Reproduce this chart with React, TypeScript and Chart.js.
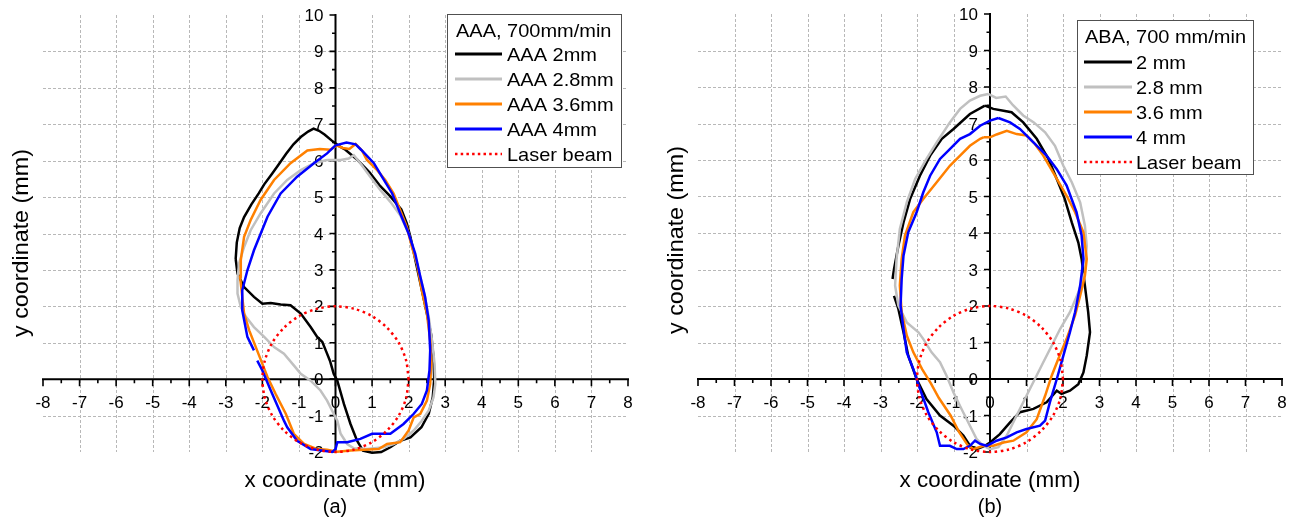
import React, { useEffect, useRef } from "react";
import { Chart, registerables } from "chart.js";

Chart.register(...registerables);

type Pt = [number, number] | null;

// ---------- axis ticks ----------
const X_TICKS = [-8, -7, -6, -5, -4, -3, -2, -1, 0, 1, 2, 3, 4, 5, 6, 7, 8];
const X_MINOR = [-7.5, -6.5, -5.5, -4.5, -3.5, -2.5, -1.5, -0.5, 0.5, 1.5, 2.5, 3.5, 4.5, 5.5, 6.5, 7.5];
const Y_TICKS = [-2, -1, 0, 1, 2, 3, 4, 5, 6, 7, 8, 9, 10];
const Y_MINOR = [-1.5, -0.5, 0.5, 1.5, 2.5, 3.5, 4.5, 5.5, 6.5, 7.5, 8.5, 9.5];

// ---------- panel (a): AAA, 700mm/min ----------
const AAA_2MM: Pt[] = [
  [-2.73, 3.3], [-2.7, 3.75], [-2.62, 4.15], [-2.5, 4.45], [-2.3, 4.8], [-2.1, 5.1], [-1.95, 5.35],
  [-1.75, 5.62], [-1.55, 5.9], [-1.35, 6.19], [-1.15, 6.45], [-0.95, 6.65], [-0.75, 6.8], [-0.6, 6.88],
  [-0.45, 6.82], [-0.3, 6.72], [-0.1, 6.55], [0.1, 6.4], [0.27, 6.3], [0.58, 6.04], [0.93, 5.68],
  [1.2, 5.33], [1.5, 5.02], [1.8, 4.66], [1.95, 4.28], [2.05, 3.9], [2.2, 3.2], [2.35, 2.5], [2.5, 1.8],
  [2.62, 1.2], [2.68, 0.6], [2.7, 0.0], [2.66, -0.5], [2.55, -0.95], [2.35, -1.32], [2.05, -1.6],
  [1.77, -1.69], [1.5, -1.87], [1.25, -2.0], [1.0, -2.02], [0.75, -1.96], [0.59, -1.69], [0.41, -1.23],
  [0.23, -0.68], [0.05, -0.04], [-0.05, 0.15], [-0.15, 0.5], [-0.25, 0.75], [-0.36, 1.02], [-0.5, 1.16],
  [-0.68, 1.43], [-0.95, 1.8], [-1.23, 2.03], [-1.5, 2.05], [-1.77, 2.09], [-2.0, 2.07], [-2.23, 2.26],
  [-2.5, 2.53], [-2.68, 2.9], [-2.73, 3.3],
];
const AAA_2_8MM: Pt[] = [
  [-0.23, 6.02], [0.14, 6.02], [0.36, 6.06], [0.5, 6.15], [0.68, 5.93], [0.95, 5.56], [1.23, 5.19],
  [1.5, 4.87], [1.77, 4.5], [2.0, 4.0], [2.23, 3.17], [2.41, 2.44], [2.55, 1.71], [2.64, 1.06],
  [2.71, 0.42], [2.73, -0.13], [2.68, -0.5], [2.55, -0.86], [2.36, -1.14], [2.14, -1.41], [1.86, -1.64],
  [1.59, -1.78], [1.32, -1.87], [0.86, -1.92], [0.5, -1.9], [0.32, -1.78], [0.14, -1.5], [0.05, -1.14],
  [-0.05, -0.95], [-0.23, -0.59], [-0.41, -0.31], [-0.68, -0.04], [-0.95, 0.15], [-1.14, 0.38],
  [-1.41, 0.7], [-1.68, 0.88], [-1.95, 1.16], [-2.23, 1.43], [-2.45, 1.71], [-2.59, 1.98], [-2.68, 2.35],
  [-2.68, 2.72], [-2.64, 3.17], [-2.5, 3.63], [-2.32, 4.09], [-2.05, 4.55], [-1.68, 5.1], [-1.32, 5.47],
  [-0.95, 5.74], [-0.59, 5.93], [-0.23, 6.02],
];
const AAA_3_6MM: Pt[] = [
  [0.03, 6.42], [0.2, 6.35], [0.38, 6.32], [0.55, 6.46], [0.73, 6.27], [0.86, 6.02], [1.14, 5.74],
  [1.36, 5.47], [1.59, 5.1], [1.77, 4.64], [1.95, 4.18], [2.09, 3.63], [2.23, 3.17], [2.36, 2.44],
  [2.5, 1.8], [2.59, 1.06], [2.62, 0.42], [2.59, -0.13], [2.5, -0.59], [2.32, -0.95], [2.14, -1.05],
  [2.0, -1.41], [1.77, -1.73], [1.41, -1.78], [1.18, -1.92], [0.77, -1.94], [0.41, -1.96], [0.05, -1.99],
  [-0.23, -1.94], [-0.5, -1.92], [-0.86, -1.78], [-1.14, -1.5], [-1.36, -0.95], [-1.64, -0.4],
  [-1.86, 0.06], [-2.0, 0.42], [-2.18, 0.88], [-2.36, 1.34], [-2.5, 1.8], [-2.55, 2.26], [-2.61, 2.81],
  [-2.59, 3.27], [-2.5, 3.91], [-2.32, 4.37], [-2.05, 4.92], [-1.68, 5.47], [-1.23, 5.93], [-0.77, 6.28],
  [-0.43, 6.32], [-0.14, 6.3], [0.03, 6.42],
];
const AAA_4MM: Pt[] = [
  [0.0, 6.42], [0.3, 6.5], [0.55, 6.45], [0.7, 6.3], [1.05, 5.93], [1.27, 5.56], [1.55, 5.1], [1.77, 4.55],
  [2.0, 4.0], [2.18, 3.45], [2.32, 2.81], [2.45, 2.26], [2.55, 1.61], [2.59, 0.79], [2.57, 0.24],
  [2.5, -0.31], [2.36, -0.68], [2.14, -0.95], [1.86, -1.23], [1.5, -1.5], [1.0, -1.5], [0.68, -1.64],
  [0.32, -1.73], [0.05, -1.73], [0.0, -1.92], [-0.09, -2.0], [-0.68, -1.92], [-1.05, -1.69],
  [-1.32, -1.32], [-1.41, -1.14], [-1.77, -0.31], [-2.0, 0.24], [-2.14, 0.51], null, [-2.23, 0.79],
  [-2.41, 1.16], [-2.55, 1.89], [-2.55, 2.44], [-2.41, 2.99], [-2.23, 3.54], [-1.86, 4.46], [-1.5, 5.1],
  [-1.05, 5.56], [-0.59, 5.93], [-0.23, 6.2], [0.0, 6.42],
];

// ---------- panel (b): ABA, 700 mm/min ----------
const ABA_2MM: Pt[] = [
  [-0.14, 7.49], [-0.55, 7.26], [-1.0, 6.85], [-1.32, 6.58], [-1.64, 6.12], [-1.92, 5.57], [-2.19, 4.93],
  [-2.37, 4.29], [-2.51, 3.65], [-2.63, 3.01], [-2.67, 2.74], null, [-2.63, 2.28], [-2.51, 1.92],
  [-2.37, 1.28], [-2.24, 0.64], [-2.01, 0.0], [-1.74, -0.55], [-1.37, -1.0], [-1.0, -1.28],
  [-0.73, -1.55], [-0.55, -1.83], [-0.37, -1.92], [-0.14, -1.83], [0.0, -1.74], [0.27, -1.51],
  [0.55, -1.19], [0.82, -0.91], [1.19, -0.82], [1.55, -0.64], [1.83, -0.32], [1.96, -0.41],
  [2.19, -0.32], [2.42, -0.14], [2.56, 0.18], [2.65, 0.64], [2.74, 1.28], [2.69, 1.83], [2.6, 2.56],
  [2.51, 3.29], [2.42, 3.74], [2.24, 4.29], [2.05, 4.93], [1.83, 5.48], [1.6, 6.03], [1.28, 6.58],
  [0.91, 7.03], [0.59, 7.31], [0.37, 7.35], [0.09, 7.4], [-0.14, 7.49],
];
const ABA_2_8MM: Pt[] = [
  [-0.05, 7.81], [-0.27, 7.76], [-0.55, 7.63], [-0.82, 7.4], [-1.1, 7.03], [-1.46, 6.48], [-1.74, 6.03],
  [-2.05, 5.48], [-2.28, 4.84], [-2.47, 4.11], [-2.56, 3.29], [-2.6, 2.56], [-2.51, 2.01], [-2.28, 1.55],
  [-1.96, 1.28], [-1.83, 1.1], [-1.6, 0.73], [-1.37, 0.46], [-1.19, 0.09], [-1.0, -0.37], [-0.78, -0.82],
  [-0.55, -1.28], [-0.37, -1.64], [-0.18, -1.83], [0.0, -1.92], [0.23, -1.87], [0.46, -1.55],
  [0.73, -1.0], [1.0, -0.46], [1.23, 0.0], [1.46, 0.46], [1.69, 0.91], [1.92, 1.37], [2.19, 1.83],
  [2.42, 2.37], [2.6, 2.92], [2.65, 3.65], [2.6, 4.2], [2.47, 4.84], [2.24, 5.39], [2.01, 5.84],
  [1.78, 6.39], [1.51, 6.76], [1.2, 7.03], [0.91, 7.22], [0.63, 7.5], [0.43, 7.74], [0.17, 7.7],
  [-0.05, 7.81],
];
const ABA_3_6MM: Pt[] = [
  [-0.18, 6.62], [0.0, 6.62], [0.18, 6.7], [0.46, 6.8], [0.73, 6.71], [1.0, 6.67], [1.23, 6.44],
  [1.46, 6.12], [1.78, 5.57], [2.1, 5.02], [2.33, 4.57], [2.56, 4.02], [2.65, 3.29], [2.6, 2.83],
  [2.47, 2.28], [2.33, 1.74], [2.1, 1.1], [1.87, 0.55], [1.69, 0.09], [1.51, -0.46], [1.28, -1.1],
  [1.0, -1.46], [0.64, -1.69], [0.37, -1.74], [0.09, -1.83], [-0.18, -1.83], [-0.46, -1.92],
  [-0.62, -1.8], [-0.85, -1.45], [-1.08, -1.0], [-1.4, -0.52], [-1.62, -0.12], [-1.86, 0.27],
  [-2.1, 0.73], [-2.28, 1.19], [-2.42, 1.83], [-2.47, 2.56], [-2.42, 3.29], [-2.33, 3.93], [-2.1, 4.57],
  [-1.83, 4.93], [-1.46, 5.39], [-1.1, 5.84], [-0.82, 6.12], [-0.55, 6.39], [-0.27, 6.58], [-0.18, 6.62],
];
const ABA_4MM: Pt[] = [
  [0.23, 7.15], [0.0, 7.08], [-0.27, 6.94], [-0.55, 6.71], [-0.82, 6.58], [-1.1, 6.3], [-1.37, 6.03],
  [-1.64, 5.57], [-1.83, 5.11], [-2.01, 4.57], [-2.24, 4.02], [-2.37, 3.38], [-2.42, 2.74], [-2.45, 2.01],
  [-2.37, 1.37], [-2.28, 0.73], [-2.1, 0.27], [-1.92, -0.27], [-1.69, -0.91], [-1.46, -1.46],
  [-1.37, -1.83], [-1.1, -1.83], [-0.91, -1.92], [-0.73, -1.92], [-0.55, -1.83], [-0.41, -1.69],
  [-0.27, -1.78], [-0.09, -1.83], [0.18, -1.69], [0.46, -1.6], [0.73, -1.46], [1.0, -1.37],
  [1.37, -1.28], [1.51, -1.14], [1.64, -0.64], [1.83, 0.0], [2.01, 0.64], [2.19, 1.28], [2.33, 1.83],
  [2.47, 2.56], [2.56, 3.29], [2.51, 3.93], [2.37, 4.57], [2.1, 5.3], [1.83, 5.75], [1.55, 6.12],
  [1.19, 6.48], [0.82, 6.85], [0.55, 7.03], [0.23, 7.15],
];

// laser beam spot (dotted circle) – same in both panels
const LASER_BEAM: Pt[] = [
  [2.0, 0.0], [1.93, 0.52], [1.73, 1.0], [1.41, 1.41], [1.0, 1.73], [0.52, 1.93], [0.0, 2.0],
  [-0.52, 1.93], [-1.0, 1.73], [-1.41, 1.41], [-1.73, 1.0], [-1.93, 0.52], [-2.0, 0.0], [-1.93, -0.52],
  [-1.73, -1.0], [-1.41, -1.41], [-1.0, -1.73], [-0.52, -1.93], [0.0, -2.0], [0.52, -1.93], [1.0, -1.73],
  [1.41, -1.41], [1.73, -1.0], [1.93, -0.52], [2.0, 0.0],
];

const LABELS_A = ["AAA 2mm", "AAA 2.8mm", "AAA 3.6mm", "AAA 4mm", "Laser beam"];
const LABELS_B = ["2 mm", "2.8 mm", "3.6 mm", "4 mm", "Laser beam"];
const TITLE_A = "AAA, 700mm/min";
const TITLE_B = "ABA, 700 mm/min";
const X_TITLE = "x coordinate (mm)";
const Y_TITLE = "y coordinate (mm)";

const COLORS = ["#000000", "#c0c0c0", "#ff8000", "#0000ff", "#ff0000"];
const FONT = '"Liberation Sans", Arial, Helvetica, sans-serif';

function toXY(pts: Pt[]) {
  const out: { x: number; y: number | null }[] = [];
  let lastX = 0;
  for (const p of pts) {
    if (p) {
      out.push({ x: p[0], y: p[1] });
      lastX = p[0];
    } else out.push({ x: lastX, y: null });
  }
  return out;
}

function text(ctx: CanvasRenderingContext2D, s: string, x: number, y: number, size: number,
  align: CanvasTextAlign, sx = 1, rot = 0) {
  ctx.save();
  ctx.translate(x, y);
  if (rot) ctx.rotate(rot);
  ctx.scale(sx, 1);
  ctx.font = `${size}px ${FONT}`;
  ctx.textAlign = align;
  ctx.textBaseline = "alphabetic";
  ctx.fillStyle = "#000";
  ctx.fillText(s, 0, 0);
  ctx.restore();
}

const panelPlugin = {
  id: "panel",
  beforeDatasetsDraw(chart: any, _args: any, o: any) {
    const ctx: CanvasRenderingContext2D = chart.ctx;
    const xs = chart.scales.x;
    const ys = chart.scales.y;
    const X = (v: number) => xs.getPixelForValue(v);
    const Y = (v: number) => ys.getPixelForValue(v);
    const xMin = X_TICKS[0], xMax = X_TICKS[X_TICKS.length - 1];
    const yMin = Y_TICKS[0], yMax = Y_TICKS[Y_TICKS.length - 1];
    ctx.save();
    // dashed grid
    ctx.strokeStyle = "#b8b8b8";
    ctx.lineWidth = 1;
    ctx.setLineDash([3, 2]);
    ctx.beginPath();
    for (const v of X_TICKS) {
      if (v === 0 || v === xMin || v === xMax) continue;
      const px = Math.round(X(v)) + 0.5;
      ctx.moveTo(px, Y(yMax));
      ctx.lineTo(px, Y(yMin));
    }
    for (const v of Y_TICKS) {
      if (v === 0 || v === yMin || v === yMax) continue;
      const py = Math.round(Y(v)) + 0.5;
      ctx.moveTo(X(xMin), py);
      ctx.lineTo(X(xMax), py);
    }
    ctx.stroke();
    ctx.setLineDash([]);
    // axes through the origin
    const x0 = X(0), y0 = Y(0);
    ctx.strokeStyle = "#000";
    ctx.lineWidth = 2;
    ctx.beginPath();
    ctx.moveTo(X(xMin) - 1, y0);
    ctx.lineTo(X(xMax) + 1, y0);
    ctx.moveTo(x0, Y(yMin));
    ctx.lineTo(x0, Y(yMax) - 1);
    ctx.stroke();
    ctx.lineWidth = 1.6;
    ctx.beginPath();
    for (const v of X_TICKS) { ctx.moveTo(X(v), y0); ctx.lineTo(X(v), y0 + 7); }
    for (const v of X_MINOR) { ctx.moveTo(X(v), y0); ctx.lineTo(X(v), y0 + 4); }
    for (const v of Y_TICKS) { ctx.moveTo(x0, Y(v)); ctx.lineTo(x0 - 6, Y(v)); }
    for (const v of Y_MINOR) { ctx.moveTo(x0, Y(v)); ctx.lineTo(x0 - 3.5, Y(v)); }
    ctx.stroke();
    // tick labels
    for (const v of X_TICKS) text(ctx, String(v), X(v), y0 + 29, 17, "center", 1.0);
    for (const v of Y_TICKS) text(ctx, String(v), x0 - 12, Y(v) + 6, 17, "right", 1.0);
    // axis titles and panel label
    text(ctx, X_TITLE, o.xTitleX, o.xTitleY, 22, "center", 1.02);
    text(ctx, o.panelLabel, o.xTitleX, o.panelLabelY, 20, "center", 1.0);
    text(ctx, Y_TITLE, o.yTitleX, o.yTitleY, 22, "center", 1.06, -Math.PI / 2);
    ctx.restore();
  },
  afterDatasetsDraw(chart: any, _args: any, o: any) {
    const ctx: CanvasRenderingContext2D = chart.ctx;
    const [l, t, r, b] = o.box;
    ctx.save();
    ctx.fillStyle = "#fff";
    ctx.fillRect(l, t, r - l, b - t);
    ctx.strokeStyle = "#505050";
    ctx.lineWidth = 1;
    ctx.strokeRect(l + 0.5, t + 0.5, r - l, b - t);
    text(ctx, o.title, o.titleX, o.titleY + 6.5, 18.5, "left", 1.08);
    o.labels.forEach((lab: string, i: number) => {
      const yy = o.rowY + i * o.rowDy;
      ctx.save();
      ctx.strokeStyle = COLORS[i];
      if (i === 4) {
        ctx.lineWidth = 2.5;
        ctx.setLineDash([2.5, 3.2]);
      } else {
        ctx.lineWidth = 3;
      }
      ctx.beginPath();
      ctx.moveTo(o.lineX1, yy);
      ctx.lineTo(o.lineX2, yy);
      ctx.stroke();
      ctx.restore();
      text(ctx, lab, o.textX, yy + 6.5, 18.5, "left", 1.08);
    });
    ctx.restore();
  },
};

function makeDatasets(series: Pt[][], labels: string[]) {
  return series.map((s, i) => ({
    label: labels[i],
    data: toXY(s),
    showLine: true,
    borderColor: COLORS[i],
    backgroundColor: COLORS[i],
    borderWidth: 2.5,
    borderDash: i === 4 ? [2.5, 3.5] : [],
    pointRadius: 0,
    pointHoverRadius: 0,
    fill: false,
    tension: i === 4 ? 0.3 : 0,
    spanGaps: false,
    clip: 6,
    order: 5 - i,
  }));
}

function makeConfig(series: Pt[][], labels: string[], padding: any, panel: any): any {
  return {
    type: "scatter",
    data: { datasets: makeDatasets(series, labels) },
    options: {
      animation: false,
      responsive: false,
      maintainAspectRatio: false,
      events: [],
      layout: { padding },
      scales: {
        x: { type: "linear", min: X_TICKS[0], max: X_TICKS[X_TICKS.length - 1], display: false },
        y: { type: "linear", min: Y_TICKS[0], max: Y_TICKS[Y_TICKS.length - 1], display: false },
      },
      plugins: {
        legend: { display: false },
        tooltip: { enabled: false },
        panel,
      },
    },
    plugins: [panelPlugin],
  };
}

export default function App() {
  const refA = useRef<HTMLCanvasElement>(null);
  const refB = useRef<HTMLCanvasElement>(null);

  useEffect(() => {
    const chartA = new Chart(
      refA.current as HTMLCanvasElement,
      makeConfig(
        [AAA_2MM, AAA_2_8MM, AAA_3_6MM, AAA_4MM, LASER_BEAM],
        LABELS_A,
        { left: 43, right: 19, top: 15, bottom: 72 },
        {
          box: [447, 14, 621, 167],
          title: TITLE_A, titleX: 456, titleY: 30,
          labels: LABELS_A, rowY: 54, rowDy: 25,
          lineX1: 455, lineX2: 502, textX: 507,
          xTitleX: 335, xTitleY: 487, panelLabel: "(a)", panelLabelY: 513,
          yTitleX: 28, yTitleY: 243,
        }
      )
    );
    const chartB = new Chart(
      refB.current as HTMLCanvasElement,
      makeConfig(
        [ABA_2MM, ABA_2_8MM, ABA_3_6MM, ABA_4MM, LASER_BEAM],
        LABELS_B,
        { left: 51, right: 12, top: 14, bottom: 72 },
        {
          box: [430, 20, 606, 174],
          title: TITLE_B, titleX: 438, titleY: 36,
          labels: LABELS_B, rowY: 62, rowDy: 25,
          lineX1: 437, lineX2: 485, textX: 489,
          xTitleX: 343, xTitleY: 487, panelLabel: "(b)", panelLabelY: 513,
          yTitleX: 36, yTitleY: 240,
        }
      )
    );
    return () => {
      chartA.destroy();
      chartB.destroy();
    };
  }, []);

  return (
    <div style={{ position: "fixed", left: 0, top: 0, width: 1294, height: 524, background: "#fff" }}>
      <canvas ref={refA} width={647} height={524}
        style={{ position: "absolute", left: 0, top: 0, width: 647, height: 524, display: "block" }} />
      <canvas ref={refB} width={647} height={524}
        style={{ position: "absolute", left: 647, top: 0, width: 647, height: 524, display: "block" }} />
    </div>
  );
}
